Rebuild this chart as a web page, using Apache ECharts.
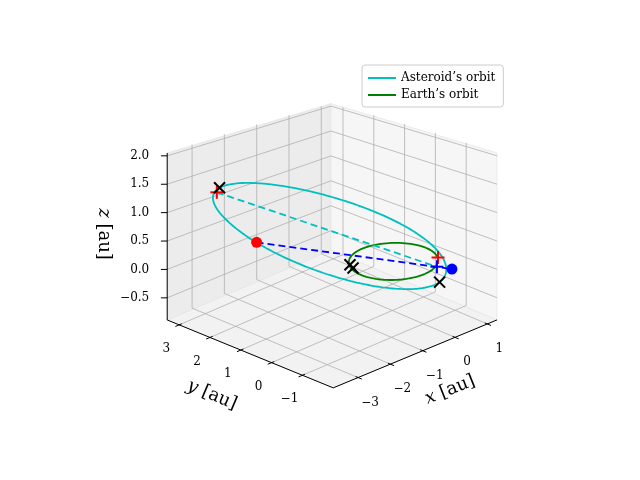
<!DOCTYPE html>
<html><head><meta charset="utf-8">
<script src="https://cdn.jsdelivr.net/npm/echarts@6/dist/echarts.min.js"></script>
<style>html,body{margin:0;padding:0;background:#fff}#c{width:640px;height:480px}</style>
</head><body><div id="c"></div>
<script>
// ---- data ----
const xLim=[-3.77,1.3], yLim=[-2.0,3.39], zLim=[-0.89,2.05];
const xTicks=[-3,-2,-1,0,1];
const yTicks=[-1,0,1,2,3];
const zTicks=[-0.5,0,0.5,1,1.5,2];
const xTickLabels=['\u22123','\u22122','\u22121','0','1'];
const yTickLabels=['\u22121','0','1','2','3'];
const zTickLabels=['\u22120.5','0.0','0.5','1.0','1.5','2.0'];
// asteroid orbit: centre, semi-major vector, semi-minor vector (au)
const astCenter=[-0.594,1.449,0.319];
const astA=[1.024,-2.498,-0.55];
const astB=[-2.0525,-0.886,0.2055];
const earthRadius=1.0;
const redDot=[-2.861,1.44,0.694];
const blueDot=[0.62,-1.25,0.0];
const redPlus=[[-1.70,3.95,0.80],[0.821,-0.588,0.0]];
const bluePlus=[[0.47,-0.92,0.0]];
const blackX=[[-1.618,3.947,0.869],[0.43,-1.049,-0.231],[-0.795,0.576,0.0],[-0.861,0.407,0.0]];
const cyanDash=[[-1.70,3.95,0.80],[0.47,-0.92,0.0]];
const blueDash=[[-2.861,1.44,0.694],[0.62,-1.25,0.0]];

// ---- projection ----
const K=0.14, CY=236.4;
function P(x,y,z){
  const xn=(x-xLim[0])/(xLim[1]-xLim[0]), yn=(y-yLim[0])/(yLim[1]-yLim[0]);
  let sx=393.4+32.3*x-30.8*y, sy=261.6-13.4*x-12.6*y-56.8*z;
  const d=xn+yn-1;
  if(d>0){const s=1/(1+K*d); sy=CY+(sy-CY)*s;}
  return [sx,sy];
}
const [X0,X1]=xLim,[Y0,Y1]=yLim,[Z0,Z1]=zLim;
const panes=[
 {pts:[[X0,Y0,Z0],[X1,Y0,Z0],[X1,Y1,Z0],[X0,Y1,Z0]],fill:'#f2f2f2'},
 {pts:[[X0,Y1,Z0],[X1,Y1,Z0],[X1,Y1,Z1],[X0,Y1,Z1]],fill:'#ececec'},
 {pts:[[X1,Y0,Z0],[X1,Y1,Z0],[X1,Y1,Z1],[X1,Y0,Z1]],fill:'#f6f6f6'}
];
const grid=[];
xTicks.forEach(v=>{grid.push([[v,Y0,Z0],[v,Y1,Z0]]);grid.push([[v,Y1,Z0],[v,Y1,Z1]]);});
yTicks.forEach(v=>{grid.push([[X0,v,Z0],[X1,v,Z0]]);grid.push([[X1,v,Z0],[X1,v,Z1]]);});
zTicks.forEach(v=>{grid.push([[X0,Y1,v],[X1,Y1,v]]);grid.push([[X1,Y1,v],[X1,Y0,v]]);});
const axesLines=[[[X0,Y0,Z0],[X1,Y0,Z0]],[[X0,Y0,Z0],[X0,Y1,Z0]],[[X0,Y1,Z0],[X0,Y1,Z1]]];
const ticks=[];
xTicks.forEach(v=>ticks.push([[v,Y0+0.08,Z0],[v,Y0-0.12,Z0]]));
yTicks.forEach(v=>ticks.push([[X0+0.08,v,Z0],[X0-0.12,v,Z0]]));
zTicks.forEach(v=>ticks.push([[X0,Y1,v],[X0-0.1,Y1+0.1,v]]));

const astPts=[];for(let i=0;i<=240;i++){const t=i/240*2*Math.PI;astPts.push(P(...astCenter.map((c,k)=>c+astA[k]*Math.cos(t)+astB[k]*Math.sin(t))));}
const earthPts=[];for(let i=0;i<=200;i++){const t=i/200*2*Math.PI;earthPts.push(P(earthRadius*Math.cos(t),earthRadius*Math.sin(t),0));}

const serif='"DejaVu Serif","Liberation Serif",serif';
const texts=[];
xTicks.forEach((v,i)=>{const p=P(v,Y0,Z0);texts.push({x:p[0]+12,y:p[1]+25,t:xTickLabels[i],a:'center',f:12});});
yTicks.forEach((v,i)=>{const p=P(X0,v,Z0);texts.push({x:p[0]-13,y:p[1]+24,t:yTickLabels[i],a:'center',f:12});});
zTicks.forEach((v,i)=>{const p=P(X0,Y1,v);texts.push({x:p[0]-18,y:p[1],t:zTickLabels[i],a:'right',f:12});});

function segSeries(name,segs,style,z){
  return {type:'custom',name,coordinateSystem:'cartesian2d',z,silent:true,
    data:segs.map((s,i)=>[i]),
    renderItem:(params,api)=>{const s=segs[params.dataIndex];
      const a=api.coord(P(...s[0])),b=api.coord(P(...s[1]));
      return {type:'line',shape:{x1:a[0],y1:a[1],x2:b[0],y2:b[1]},style:style};}};
}
function markSeries(pts,kind,color,z){
  return {type:'custom',coordinateSystem:'cartesian2d',z,silent:true,data:pts.map((p,i)=>[i]),
    renderItem:(params,api)=>{const c=api.coord(P(...pts[params.dataIndex]));const r=5.5;
      const st={stroke:color,lineWidth:2};
      const L=kind==='x'?[[-r,-r,r,r],[-r,r,r,-r]]:[[-r-1,0,r+1,0],[0,-r-1,0,r+1]];
      return {type:'group',children:L.map(l=>({type:'line',shape:{x1:c[0]+l[0],y1:c[1]+l[1],x2:c[0]+l[2],y2:c[1]+l[3]},style:st}))};}};
}
const chart=echarts.init(document.getElementById('c'),null,{renderer:'canvas'});
chart.setOption({
  animation:false,
  grid:{left:0,right:0,top:0,bottom:0},
  xAxis:{type:'value',min:0,max:640,show:false},
  yAxis:{type:'value',min:0,max:480,inverse:true,show:false},
  legend:{left:362,top:65,orient:'vertical',itemGap:5,itemWidth:28,itemHeight:2,icon:'rect',
    padding:[7,8,6,6],borderColor:'#cccccc',borderWidth:1,borderRadius:3,backgroundColor:'rgba(255,255,255,0.8)',
    textStyle:{fontFamily:serif,fontSize:12,color:'#000'},
    data:['Asteroid\u2019s orbit','Earth\u2019s orbit']},
  series:[
    {type:'custom',coordinateSystem:'cartesian2d',z:1,silent:true,data:panes.map((p,i)=>[i]),
     renderItem:(params,api)=>{const p=panes[params.dataIndex];
       return {type:'polygon',shape:{points:p.pts.map(q=>api.coord(P(...q)))},style:{fill:p.fill,stroke:'#e6e6e6',lineWidth:0.8}};}},
    segSeries('grid',grid,{stroke:'#b0b0b0',lineWidth:0.8},2),
    segSeries('axes',axesLines,{stroke:'#000',lineWidth:1},3),
    segSeries('ticks',ticks,{stroke:'#000',lineWidth:1},3),
    {type:'line',name:'Asteroid\u2019s orbit',data:astPts,showSymbol:false,z:5,color:'#00bfbf',lineStyle:{width:1.8,color:'#00bfbf'}},
    {type:'line',name:'Earth\u2019s orbit',data:earthPts,showSymbol:false,z:5,color:'#008000',lineStyle:{width:1.8,color:'#008000'}},
    {type:'line',data:cyanDash.map(p=>P(...p)),showSymbol:false,z:6,lineStyle:{width:1.8,color:'#00bfbf',type:[7,4]}},
    {type:'line',data:blueDash.map(p=>P(...p)),showSymbol:false,z:6,lineStyle:{width:1.8,color:'#0000ff',type:[7,4]}},
    {type:'scatter',data:[P(...redDot)],symbolSize:11,z:7,itemStyle:{color:'#ff0000',opacity:1}},
    {type:'scatter',data:[P(...blueDot)],symbolSize:11,z:7,itemStyle:{color:'#0000ff',opacity:1}},
    markSeries(redPlus,'+','#ff0000',8),
    markSeries(bluePlus,'+','#0000ff',8),
    markSeries(blackX,'x','#000000',8),
    {type:'custom',coordinateSystem:'cartesian2d',z:9,silent:true,data:texts.map((t,i)=>[i]),
     renderItem:(params,api)=>{const t=texts[params.dataIndex];const c=api.coord([t.x,t.y]);
       return {type:'text',x:c[0],y:c[1],style:{text:t.t,fill:'#000',font:t.f+'px '+serif,align:t.a,verticalAlign:'middle'}};}}
  ],
  graphic:[
    {type:'text',x:450,y:390,rotation:0.38,style:{text:'{i|x} [au]',font:'18px '+serif,fill:'#000',align:'center',verticalAlign:'middle',rich:{i:{fontStyle:'italic',fontFamily:serif,fontSize:18}}}},
    {type:'text',x:212,y:395,rotation:-0.40,style:{text:'{i|y} [au]',font:'18px '+serif,fill:'#000',align:'center',verticalAlign:'middle',rich:{i:{fontStyle:'italic',fontFamily:serif,fontSize:18}}}},
    {type:'text',x:104,y:234,rotation:-Math.PI/2,style:{text:'{i|z} [au]',font:'18px '+serif,fill:'#000',align:'center',verticalAlign:'middle',rich:{i:{fontStyle:'italic',fontFamily:serif,fontSize:18}}}}
  ]
});
</script></body></html>
